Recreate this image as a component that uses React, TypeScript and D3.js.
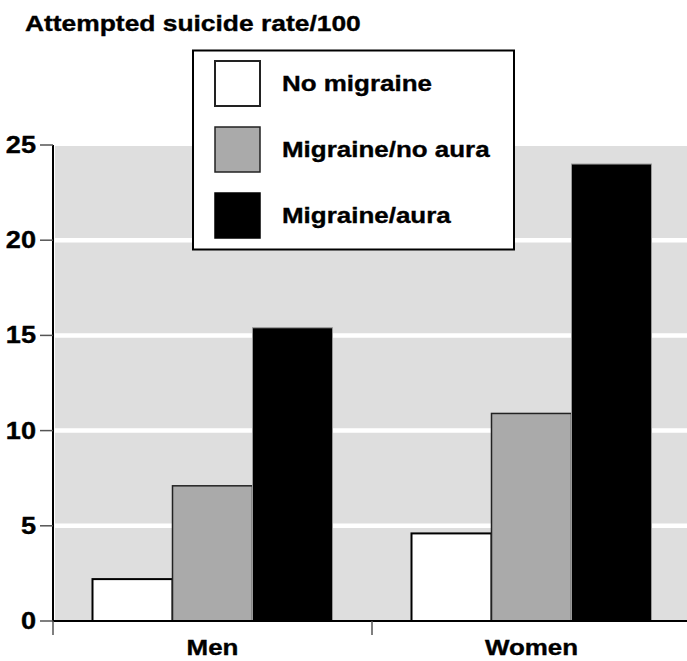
import React from "react";
import * as d3 from "d3";

const categories = ["Men", "Women"];
const seriesNames = ["No migraine", "Migraine/no aura", "Migraine/aura"];
const noMigraine = [2.2, 4.6];
const migraineNoAura = [7.1, 10.9];
const migraineAura = [15.4, 24.0];
const yTicks = [0, 5, 10, 15, 20, 25];
const yTitle = "Attempted suicide rate/100";

const seriesValues = [noMigraine, migraineNoAura, migraineAura];
const fills = ["#ffffff", "#aaaaaa", "#000000"];
const strokes = ["#000000", "#222222", "#999999"];
const strokeW = [2, 1.5, 1];

const W = 687;
const H = 661;
const SX = 1.18;
const FONT = "'Liberation Sans', Arial, Helvetica, sans-serif";

function T({ x, y, size, anchor = "start", sx = SX, children }: any) {
  return (
    <text
      transform={`translate(${x},${y}) scale(${sx},1)`}
      textAnchor={anchor}
      fontFamily={FONT}
      fontWeight="bold"
      fontSize={size}
      fill="#000"
      stroke="#000"
      strokeWidth={0.35}
    >
      {children}
    </text>
  );
}

export default function App() {
  const x0 = d3.scaleBand<string>().domain(categories).range([53, 691]).padding(0);
  const groupW = 240;
  const x1 = d3.scaleBand<number>().domain([0, 1, 2]).range([0, groupW]).padding(0);
  const y = d3.scaleLinear().domain([0, 25]).range([621, 145]);
  const offset = (x0.bandwidth() - groupW) / 2;

  return (
    <svg width={W} height={H} style={{ position: "absolute", left: 0, top: 0 }}>
      <rect x={0} y={0} width={W} height={H} fill="#fff" />
      {/* plot background */}
      <rect x={55} y={y(25) + 1} width={W - 55} height={y(0) - y(25) - 1} fill="#dedede" />
      {yTicks.filter((t) => t > 0 && t < 25).map((t) => (
        <line key={t} x1={55} x2={W} y1={y(t)} y2={y(t)} stroke="#fff" strokeWidth={4.5} />
      ))}
      {/* bars */}
      {categories.map((c, ci) =>
        seriesValues.map((vals, si) => (
          <rect
            key={c + si}
            x={(x0(c) as number) + offset + (x1(si) as number)}
            y={y(vals[ci])}
            width={x1.bandwidth()}
            height={y(0) - y(vals[ci])}
            fill={fills[si]}
            stroke={strokes[si]}
            strokeWidth={strokeW[si]}
          />
        ))
      )}
      {/* axes */}
      <line x1={53} x2={53} y1={y(25)} y2={y(0) + 1} stroke="#000" strokeWidth={2} />
      <line x1={52} x2={W} y1={y(0)} y2={y(0)} stroke="#000" strokeWidth={2} />
      {yTicks.map((t) => (
        <g key={t}>
          <line x1={40} x2={53} y1={y(t)} y2={y(t)} stroke="#555" strokeWidth={1.5} />
          <T x={36} y={y(t) + 8} size={23} anchor="end">{t}</T>
        </g>
      ))}
      {categories.map((c) => (
        <line
          key={"xt" + c}
          x1={x0(c) as number}
          x2={x0(c) as number}
          y1={y(0)}
          y2={y(0) + 14}
          stroke="#555"
          strokeWidth={1.5}
        />
      ))}
      {categories.map((c) => (
        <T key={"xl" + c} x={(x0(c) as number) + x0.bandwidth() / 2} y={655} size={22} anchor="middle">
          {c}
        </T>
      ))}
      <T x={25} y={31} size={22} sx={1.2}>{yTitle}</T>
      {/* legend */}
      <rect x={193} y={50.5} width={321} height={199} fill="#fff" stroke="#000" strokeWidth={2} />
      {seriesNames.map((s, i) => (
        <g key={s}>
          <rect
            x={215}
            y={61 + i * 66}
            width={45}
            height={45}
            fill={fills[i]}
            stroke={i === 2 ? "#000" : "#222"}
            strokeWidth={i === 0 ? 2 : 1.5}
          />
          <T x={282} y={91 + i * 66} size={22}>{s}</T>
        </g>
      ))}
    </svg>
  );
}
